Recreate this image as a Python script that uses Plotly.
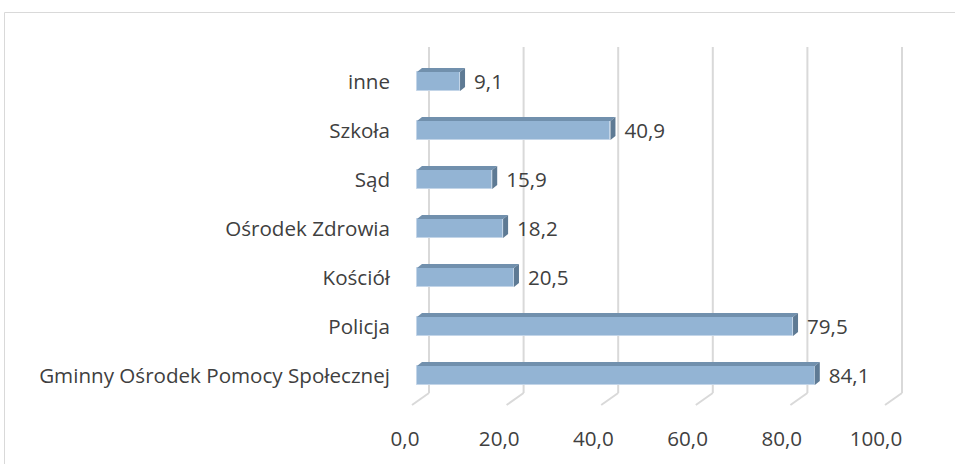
import plotly.graph_objects as go

# Categories from bottom to top, with their percentage values
categories = [
    "Gminny Ośrodek Pomocy Społecznej",
    "Policja",
    "Kościół",
    "Ośrodek Zdrowia",
    "Sąd",
    "Szkoła",
    "inne",
]
values = [84.1, 79.5, 20.5, 18.2, 15.9, 40.9, 9.1]
tick_values = [0, 20, 40, 60, 80, 100]

W, H = 955, 464

# Pixel geometry of the pseudo-3D scene
X0_PX = 417.0          # front plane, value 0
PX_PER_UNIT = 4.73     # horizontal scale
ROW0_PX = 375.5        # centre of lowest row
ROW_STEP_PX = 49.0     # distance between rows
BAR_H_PX = 19.0        # front-face height
DEPTH_DX_PX, DEPTH_DY_PX = 5.0, 4.0       # bar depth
BACK_DX_PX = 12.0      # back wall offset vs. front plane
WALL_TOP_PX, WALL_BOT_PX = 47.0, 393.0
FLOOR_DX_PX, FLOOR_FRONT_PX = -17.0, 405.0  # floor edge relative to back wall
LABEL_RIGHT_PX = 390.0  # right edge of the category labels

xr = [-X0_PX / PX_PER_UNIT, (W - X0_PX) / PX_PER_UNIT]
yr = [(ROW0_PX - H) / ROW_STEP_PX, ROW0_PX / ROW_STEP_PX]


def ux(px):
    return px / PX_PER_UNIT


def uy_abs(py):
    return (ROW0_PX - py) / ROW_STEP_PX


half = BAR_H_PX / 2 / ROW_STEP_PX
ddx, ddy = ux(DEPTH_DX_PX), DEPTH_DY_PX / ROW_STEP_PX

FRONT = "#93B4D4"
TOP = "#7190AD"
SIDE = "#5E7A94"
GRID = "#D9D9D9"
TEXT = "#404040"
FONT = "Open Sans"
FS = 20.6

fig = go.Figure()

# front faces of the bars
ys = list(range(len(categories)))
fig.add_trace(go.Bar(
    x=values, y=ys, orientation="h", width=2 * half,
    marker=dict(color=FRONT, line=dict(color="#C3D5E8", width=1)),
    hoverinfo="skip", showlegend=False,
))

# top and side faces
tx, ty, sx, sy = [], [], [], []
for v, y in zip(values, ys):
    tx += [0, v, v + ddx, ddx, 0, None]
    ty += [y + half, y + half, y + half + ddy, y + half + ddy, y + half, None]
    sx += [v, v, v + ddx, v + ddx, v, None]
    sy += [y - half, y + half, y + half + ddy, y - half + ddy, y - half, None]
fig.add_trace(go.Scatter(x=tx, y=ty, fill="toself", fillcolor=TOP, mode="lines",
                         line=dict(width=0), hoverinfo="skip", showlegend=False))
fig.add_trace(go.Scatter(x=sx, y=sy, fill="toself", fillcolor=SIDE, mode="lines",
                         line=dict(width=0), hoverinfo="skip", showlegend=False))

# value labels
fig.add_trace(go.Scatter(
    x=[v + ddx + ux(9) for v in values], y=[y - 0.04 for y in ys], mode="text",
    text=[f"{v:.1f}".replace(".", ",") for v in values],
    textposition="middle right",
    textfont=dict(family=FONT, size=FS, color=TEXT),
    hoverinfo="skip", showlegend=False,
))

# category labels
fig.add_trace(go.Scatter(
    x=[ux(LABEL_RIGHT_PX - X0_PX)] * len(categories), y=[y - 0.04 for y in ys],
    mode="text", text=categories, textposition="middle left",
    textfont=dict(family=FONT, size=FS, color=TEXT),
    hoverinfo="skip", showlegend=False,
))

# invisible trace carrying the value axis labels
fig.add_trace(go.Scatter(x=[0, 100], y=[0, 0], xaxis="x2", mode="markers",
                         marker=dict(opacity=0), hoverinfo="skip", showlegend=False))

# back-wall gridlines and floor ticks
shapes = []
back = ux(BACK_DX_PX)
for t in tick_values:
    shapes.append(dict(type="line", layer="below", xref="x", yref="y",
                       x0=t + back, x1=t + back,
                       y0=uy_abs(WALL_TOP_PX), y1=uy_abs(WALL_BOT_PX),
                       line=dict(color=GRID, width=2)))
    shapes.append(dict(type="line", layer="below", xref="x", yref="y",
                       x0=t + back, x1=t + back + ux(FLOOR_DX_PX),
                       y0=uy_abs(WALL_BOT_PX), y1=uy_abs(FLOOR_FRONT_PX),
                       line=dict(color=GRID, width=2)))
# chart frame
shapes.append(dict(type="rect", layer="below", xref="paper", yref="paper",
                   x0=4.5 / W, x1=1.2, y0=-0.2, y1=1 - 12.5 / H,
                   line=dict(color=GRID, width=1)))

fig.update_layout(
    width=W, height=H,
    margin=dict(l=0, r=0, t=0, b=0, autoexpand=False),
    paper_bgcolor="white", plot_bgcolor="rgba(0,0,0,0)",
    separators=", ",
    bargap=0,
    shapes=shapes,
    font=dict(family=FONT, size=FS, color=TEXT),
    xaxis=dict(range=xr, domain=[0, 1], visible=False, fixedrange=True,
               automargin=False),
    yaxis=dict(range=yr, domain=[0, 1], visible=False, fixedrange=True,
               automargin=False),
    xaxis2=dict(
        range=[0, 100], domain=[405 / W, 876 / W], anchor="free",
        position=(H - FLOOR_FRONT_PX) / H, side="bottom", automargin=False,
        tickvals=tick_values, tickformat=".1f",
        ticks="outside", ticklen=15, tickcolor="rgba(0,0,0,0)",
        showgrid=False, zeroline=False, showline=False,
        tickfont=dict(family=FONT, size=FS, color=TEXT), fixedrange=True,
    ),
)

fig.write_html("out.html")
